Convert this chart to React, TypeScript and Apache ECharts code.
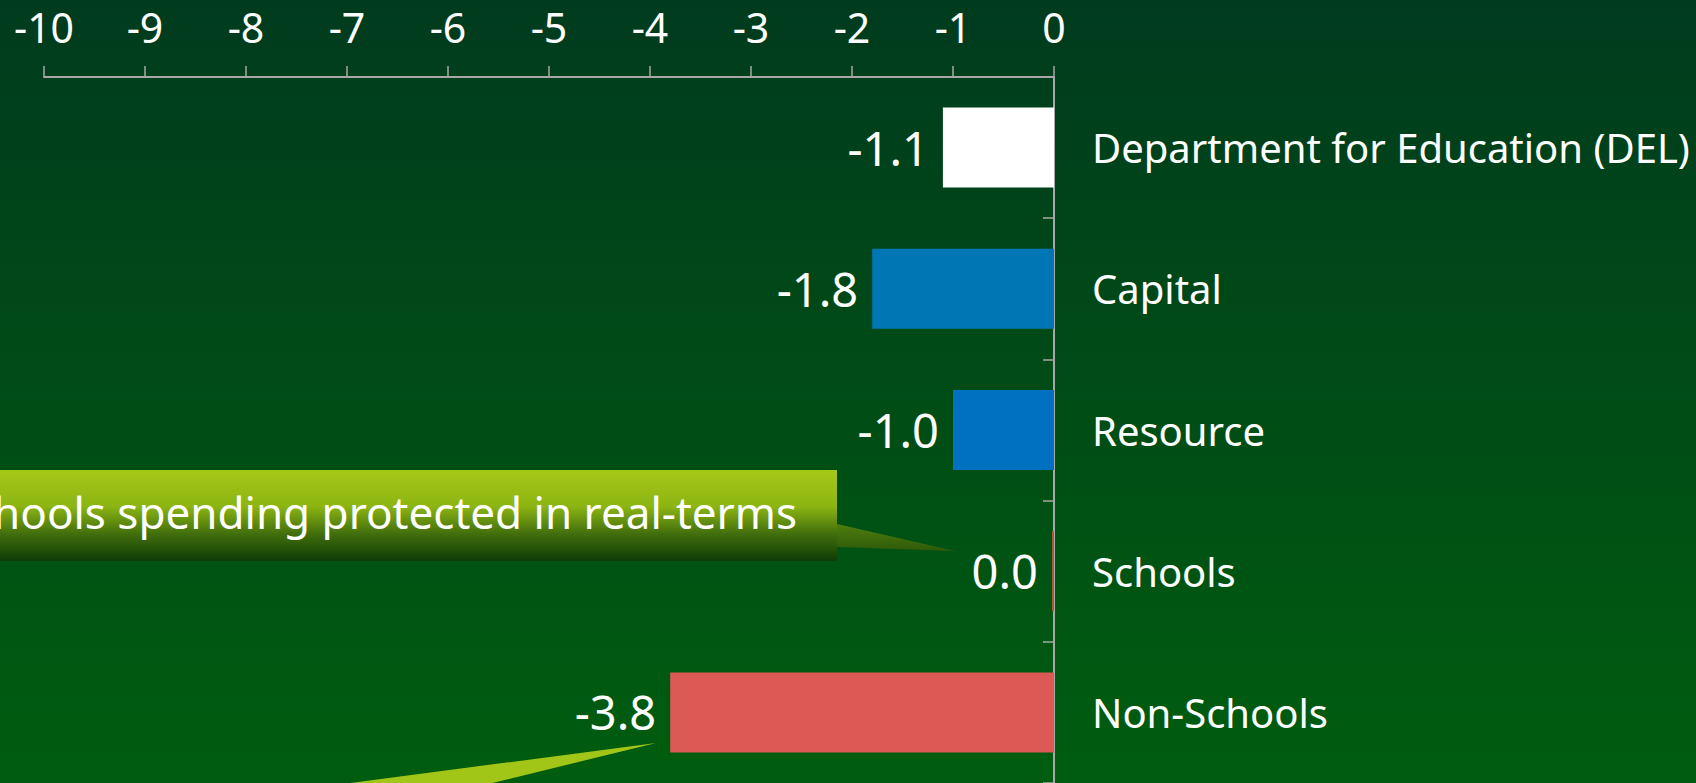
import React, { useEffect, useRef } from "react";
import * as echarts from "echarts";

const categories = ["Department for Education (DEL)", "Capital", "Resource", "Schools", "Non-Schools"];
const values = [-1.1, -1.8, -1.0, -0.02, -3.8];
const barColors = ["#ffffff", "#0077b4", "#0070c0", "#a85a3a", "#dd5955"];
const xTicks = { min: -10, max: 0, interval: 1 };
const calloutText = "Schools spending protected in real-terms";

const FONT = "'Noto Sans', sans-serif";

export default function App() {
  const ref = useRef<HTMLDivElement>(null);
  useEffect(() => {
    document.body.style.margin = "0";
    const chart = echarts.init(ref.current!, null, { renderer: "svg" });
    chart.setOption({
      animation: false,
      backgroundColor: {
        type: "linear", x: 0, y: 0, x2: 0, y2: 1,
        colorStops: [
          { offset: 0, color: "#003b1e" },
          { offset: 1, color: "#005d0f" },
        ],
      },
      textStyle: { fontFamily: FONT },
      grid: { left: 44, right: 642, top: 77, bottom: 0, containLabel: false },
      xAxis: {
        type: "value",
        position: "top",
        min: xTicks.min,
        max: xTicks.max,
        interval: xTicks.interval,
        axisLine: { show: true, lineStyle: { color: "#a8a8a8", width: 2 } },
        axisTick: { show: true, length: 11, lineStyle: { color: "#a8a8a8", width: 1.5 } },
        axisLabel: { color: "#ffffff", fontSize: 41, fontFamily: FONT, margin: 30 },
        splitLine: { show: false },
      },
      yAxis: {
        type: "category",
        data: categories,
        inverse: true,
        position: "right",
        axisLine: { show: true, lineStyle: { color: "#a8a8a8", width: 2 } },
        axisTick: { show: true, inside: true, length: 11, lineStyle: { color: "#a8a8a8", width: 1.5 } },
        axisLabel: { color: "#ffffff", fontSize: 40, fontFamily: FONT, margin: 38 },
      },
      series: [
        {
          type: "bar",
          barWidth: 80,
          data: values.map((v, i) => ({ value: v, itemStyle: { color: barColors[i] } })),
          label: {
            show: true,
            position: "left",
            distance: 14,
            color: "#ffffff",
            fontSize: 47,
            fontFamily: FONT,
            formatter: (p: any) => (Math.round(p.value * 10) / 10 + 0).toFixed(1),
          },
        },
      ],
      graphic: [
        {
          type: "rect",
          shape: { x: -20, y: 470, width: 857, height: 91 },
          style: {
            fill: {
              type: "linear", x: 0, y: 0, x2: 0, y2: 1,
              colorStops: [
                { offset: 0, color: "#a6c817" },
                { offset: 0.4, color: "#8cb513" },
                { offset: 0.7, color: "#426f0c" },
                { offset: 1, color: "#0e3c07" },
              ],
            },
          },
          z: 10,
        },
        {
          type: "polygon",
          shape: { points: [[837, 524], [955, 551], [837, 547]] },
          style: {
            fill: {
              type: "linear", x: 0, y: 0, x2: 0, y2: 1,
              colorStops: [
                { offset: 0, color: "#4e7e0e" },
                { offset: 1, color: "#2f5a0a" },
              ],
            },
          },
          z: 10,
        },
        {
          type: "text",
          style: {
            text: calloutText,
            x: 797,
            y: 512,
            align: "right",
            verticalAlign: "middle",
            fill: "#ffffff",
            fontSize: 44,
            fontFamily: FONT,
          },
          z: 11,
        },
        {
          type: "polygon",
          shape: { points: [[656, 743], [320, 787], [476, 787]] },
          style: { fill: "#a2c617" },
          z: 10,
        },
      ],
    });
    return () => chart.dispose();
  }, []);
  return <div ref={ref} style={{ width: 1696, height: 783 }} />;
}
